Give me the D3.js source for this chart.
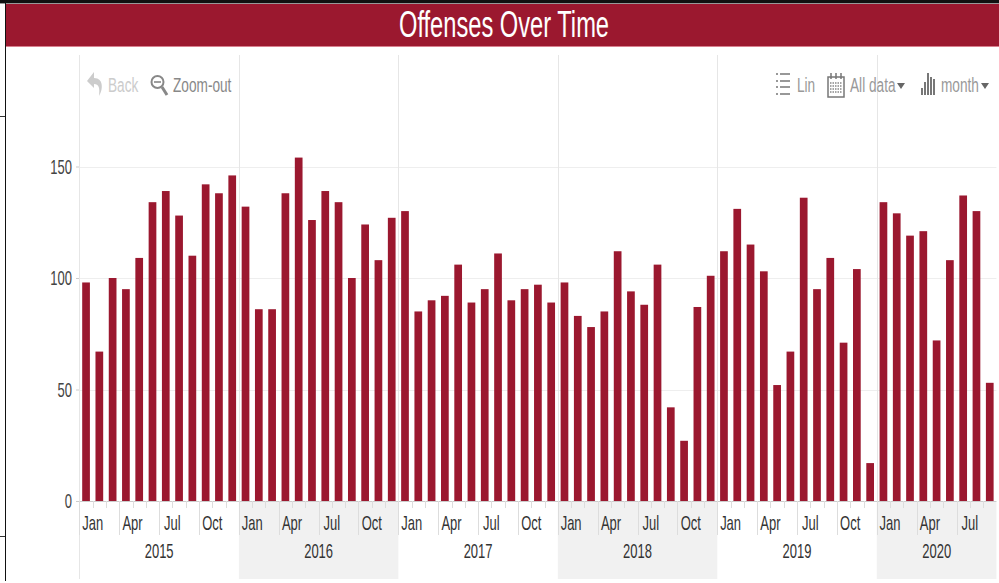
<!DOCTYPE html>
<html>
<head>
<meta charset="utf-8">
<script src="https://cdn.jsdelivr.net/npm/d3@7"></script>
<style>
  html, body { margin: 0; padding: 0; background: #fff; }
  svg { display: block; font-family: "Liberation Sans", Arial, sans-serif; }
</style>
</head>
<body>
<svg width="999" height="583"></svg>
<script>
const years = [2015, 2016, 2017, 2018, 2019, 2020]
const monthNames = ['Jan', 'Feb', 'Mar', 'Apr', 'May', 'Jun', 'Jul', 'Aug', 'Sep', 'Oct', 'Nov', 'Dec']
const yTicks = [0, 50, 100, 150]

const offenses2015 = [98, 67, 100, 95, 109, 134, 139, 128, 110, 142, 138, 146]
const offenses2016 = [132, 86, 86, 138, 154, 126, 139, 134, 100, 124, 108, 127]
const offenses2017 = [130, 85, 90, 92, 106, 89, 95, 111, 90, 95, 97, 89]
const offenses2018 = [98, 83, 78, 85, 112, 94, 88, 106, 42, 27, 87, 101]
const offenses2019 = [112, 131, 115, 103, 52, 67, 136, 95, 109, 71, 104, 17]
const offenses2020 = [134, 129, 119, 121, 72, 108, 137, 130, 53]

const red = '#9b182f'
const squeeze = 0.65

const byYear = [offenses2015, offenses2016, offenses2017, offenses2018, offenses2019, offenses2020]
const data = byYear.flatMap((vals, i) => vals.map((v, m) => ({ year: years[i], month: m, value: v })))

const svg = d3.select('svg')

const plotLeft = 79.4, plotRight = 996.4, plotTop = 55, plotBottom = 501, chartBottom = 579

const x = d3.scaleBand()
    .domain(d3.range(data.length))
    .range([plotLeft, plotRight])
    .paddingInner(0.42)
    .paddingOuter(0.21)
const step = x.step()
const bandStart = i => x(i) - x.paddingInner() * step / 2
const monthIndex = (y, m) => (y - years[0]) * 12 + m

const y = d3.scaleLinear().domain([0, 200]).range([plotBottom, plotTop])

// narrow text, the screenshot is squeezed sideways
function label(parent, txt, px, py, size, color, anchor) {
    return parent.append('text')
        .attr('transform', `translate(${px},${py}) scale(${squeeze},1)`)
        .attr('text-anchor', anchor || 'middle')
        .attr('font-size', size)
        .attr('fill', color)
        .text(txt)
}

// window frame bits left of the chart
svg.append('rect').attr('x', 0).attr('y', 0).attr('width', 999).attr('height', 3).attr('fill', '#111')
svg.append('rect').attr('x', 0).attr('y', 3).attr('width', 999).attr('height', 1).attr('fill', '#999')
svg.append('rect').attr('x', 5).attr('y', 0).attr('width', 1).attr('height', 581).attr('fill', '#111')
svg.append('rect').attr('x', 0).attr('y', 116).attr('width', 5).attr('height', 1).attr('fill', '#333')
svg.append('rect').attr('x', 0).attr('y', 536).attr('width', 5).attr('height', 1).attr('fill', '#333')

// title band
svg.append('rect').attr('x', 6).attr('y', 4).attr('width', 993).attr('height', 42).attr('fill', red)
svg.append('rect').attr('x', 6).attr('y', 46).attr('width', 993).attr('height', 1).attr('fill', '#d9808f')
svg.append('text')
    .attr('transform', `translate(504,37) scale(0.64,1)`)
    .attr('text-anchor', 'middle')
    .attr('font-size', 37)
    .attr('fill', '#fff')
    .text('Offenses Over Time')

// alternate year shading below the axis
svg.append('g').selectAll('rect')
    .data(years.filter((d, i) => i % 2 === 1))
    .join('rect')
    .attr('x', d => bandStart(monthIndex(d, 0)))
    .attr('y', plotBottom)
    .attr('width', d => Math.min(12 * step, plotRight - bandStart(monthIndex(d, 0))))
    .attr('height', chartBottom - plotBottom)
    .attr('fill', '#f1f1f1')

// grid
const yAxis = d3.axisLeft(y).tickValues(yTicks).tickSize(4).tickPadding(4)
const yG = svg.append('g').attr('transform', `translate(${plotLeft + 0.6},0)`).call(yAxis)
yG.select('.domain').remove()
yG.selectAll('line').attr('stroke', '#ccc')
yG.selectAll('text')
    .attr('x', null)
    .attr('dy', null)
    .attr('transform', `translate(-8,6.5) scale(${squeeze},1)`)
    .attr('font-family', null)
    .attr('font-size', 20)
    .attr('fill', '#444')

svg.append('g').selectAll('line')
    .data(yTicks.slice(1))
    .join('line')
    .attr('x1', plotLeft).attr('x2', plotRight)
    .attr('y1', d => Math.round(y(d)) + 0.5).attr('y2', d => Math.round(y(d)) + 0.5)
    .attr('stroke', '#eee')

svg.append('g').selectAll('line')
    .data(years)
    .join('line')
    .attr('x1', d => Math.round(bandStart(monthIndex(d, 0))) + 0.5)
    .attr('x2', d => Math.round(bandStart(monthIndex(d, 0))) + 0.5)
    .attr('y1', plotTop)
    .attr('y2', (d, i) => i === 0 ? chartBottom : plotBottom)
    .attr('stroke', '#e6e6e6')

// bars
svg.append('g').selectAll('rect')
    .data(data)
    .join('rect')
    .attr('x', (d, i) => x(i))
    .attr('y', d => y(d.value))
    .attr('width', x.bandwidth())
    .attr('height', d => plotBottom - y(d.value))
    .attr('fill', red)

// x axis: month ticks, long on each quarter
svg.append('line')
    .attr('x1', plotLeft).attr('x2', plotRight)
    .attr('y1', plotBottom + 0.5).attr('y2', plotBottom + 0.5)
    .attr('stroke', '#ccc')

svg.append('g').selectAll('line')
    .data(data)
    .join('line')
    .attr('x1', (d, i) => Math.round(bandStart(i)) + 0.5)
    .attr('x2', (d, i) => Math.round(bandStart(i)) + 0.5)
    .attr('y1', plotBottom)
    .attr('y2', d => d.month % 3 === 0 ? 535 : 508)
    .attr('stroke', '#ddd')

const labels = svg.append('g')
data.filter(d => d.month % 3 === 0).forEach(d => {
    const i = monthIndex(d.year, d.month)
    label(labels, monthNames[d.month], bandStart(i) + step, 530, 20, '#333')
})
years.forEach(yr => {
    label(labels, yr, bandStart(monthIndex(yr, 0)) + (yr === 2020 ? 60 : 6 * step), 558, 20, '#333')
})

// toolbar
const bar = svg.append('g')
label(bar, 'Back', 108, 92, 21, '#ccc', 'start')
label(bar, 'Zoom-out', 173, 92, 21, '#888', 'start')
label(bar, 'Lin', 797, 92, 21, '#999', 'start')
label(bar, 'All data', 850, 92, 21, '#999', 'start')
label(bar, 'month', 941, 92, 21, '#999', 'start')

// back arrow
bar.append('path')
    .attr('d', 'M94 72 L87 81 L94 88 L94 84 C99 84 100 88 99 96 C103 90 104 78 94 78 Z')
    .attr('fill', '#ccc')
// magnifier
bar.append('circle').attr('cx', 157.5).attr('cy', 82).attr('r', 6).attr('fill', 'none').attr('stroke', '#888').attr('stroke-width', 2)
bar.append('path').attr('d', 'M154 82 H161').attr('stroke', '#888').attr('stroke-width', 1.6)
bar.append('path').attr('d', 'M162 87 L167 95').attr('stroke', '#888').attr('stroke-width', 3)
// list
;[74, 81, 87, 94].forEach(py => {
    bar.append('path').attr('d', `M776 ${py} H778 M780 ${py} H790`).attr('stroke', '#777').attr('stroke-width', 1.3)
})
// calendar
bar.append('rect').attr('x', 828).attr('y', 77).attr('width', 16).attr('height', 20).attr('fill', '#fff').attr('stroke', '#777').attr('stroke-width', 1.5)
bar.append('path').attr('d', 'M831 73 V79 M836 73 V79 M841 73 V79').attr('stroke', '#777').attr('stroke-width', 1.5)
bar.append('path').attr('d', 'M830 83 H842 M830 86 H842 M830 89 H842 M830 92 H842').attr('stroke', '#888').attr('stroke-width', 1.5).attr('stroke-dasharray', '1.5 1')
// small bars
;[[921, 88], [924, 82], [927, 73], [930, 77], [933, 79]].forEach(b => {
    bar.append('rect').attr('x', b[0]).attr('y', b[1]).attr('width', 2).attr('height', 95 - b[1]).attr('fill', '#777')
})
// carets
bar.append('path').attr('d', 'M897 83 H905 L901 89 Z').attr('fill', '#666')
bar.append('path').attr('d', 'M981 83 H989 L985 89 Z').attr('fill', '#666')
</script>
</body>
</html>
